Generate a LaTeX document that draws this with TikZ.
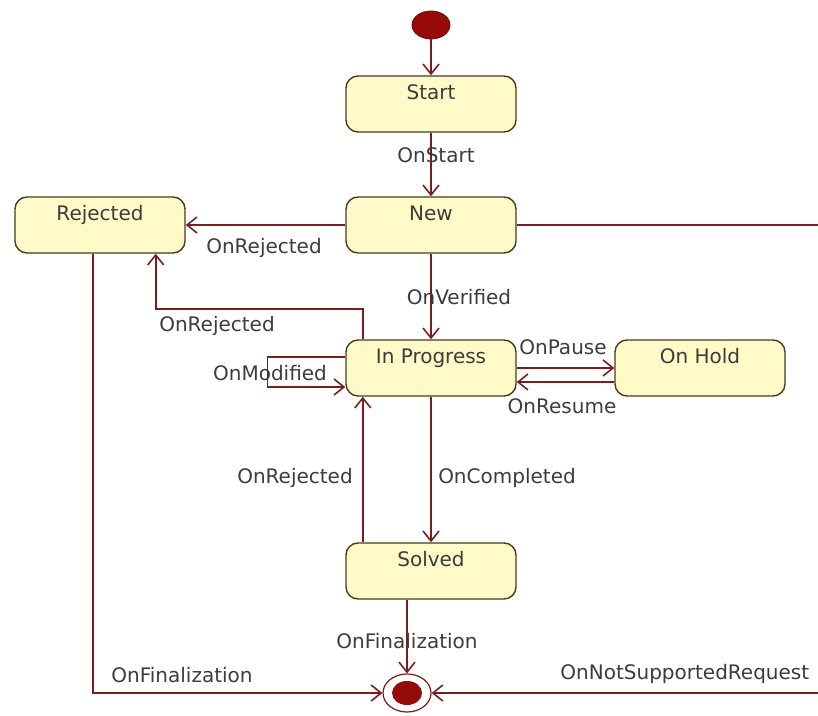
\documentclass[tikz,border=0pt]{standalone}
\usepackage{fontspec}
\setmainfont{DejaVu Sans}
\usetikzlibrary{arrows.meta, calc, shapes.geometric}

\definecolor{boxfill}{RGB}{255,250,200}
\definecolor{boxline}{RGB}{70,60,30}
\definecolor{wirered}{RGB}{120,30,30}
\definecolor{dotred}{RGB}{150,10,10}
\definecolor{labelgray}{RGB}{60,60,60}

\begin{document}
\begin{tikzpicture}[
            x=0.5pt, y=-0.5pt,
            state/.style={draw=boxline, fill=boxfill, line width=0.7pt, rounded corners=6pt, minimum width=85pt, minimum height=28pt, text height=7.6pt, text depth=12.4pt, inner ysep=4pt, font=\fontsize{10}{12}\selectfont, text=labelgray},
            event/.style={font=\fontsize{10}{12}\selectfont, text=labelgray, inner sep=1pt},
            arrow/.style={-{Straight Barb[length=5pt, width=8pt]}, draw=wirered, line width=0.8pt},
            initial/.style={ellipse, fill=dotred, draw=dotred!70!black, minimum width=19pt, minimum height=14pt, inner sep=0pt},
            final/.style={ellipse, draw=wirered, line width=0.6pt, fill=white, minimum width=24pt, minimum height=19pt, inner sep=0pt,
                path picture={\fill[dotred] (path picture bounding box.center) ellipse (7.5pt and 6pt);}}
        ]
            \useasboundingbox (0,0) rectangle (818,716);

            % States
            \node[initial] (init) at (431,25) {};
            \node[state] (start) at (431,104) {Start};
            \node[state] (new) at (431,225) {New};
            \node[state] (rejected) at (100,225) {Rejected};
            \node[state] (progress) at (431,368) {In Progress};
            \node[state] (hold) at (700,368) {On Hold};
            \node[state] (solved) at (431,571) {Solved};
            \node[final] (final) at (407,693) {};

            % Main column
            \draw[arrow] (init) -- (start);
            \draw[arrow] (start) -- (new);
            \draw[arrow] (new) -- (progress);
            \draw[arrow] (progress) -- (solved);
            \draw[arrow] ($(solved.south)+(-24,0)$) -- (final);

            % Back to rejected
            \draw[arrow] (new) -- (rejected);
            \draw[arrow] ($(progress.north west)+(17.5,0)$) -- ++(0,-30) -| ($(rejected.south east)+(-30,0)$);
            \draw[arrow] ($(solved.north west)+(17.5,0)$) -- ($(progress.south west)+(17.5,0)$);

            % Self loop and hold
            \draw[arrow] ($(progress.west)+(0,-11)$) -- ++(-78,0) |- ($(progress.west)+(0,19)$);
            \draw[arrow] (progress) -- (hold);
            \draw[arrow] ($(hold.west)+(0,14)$) -- ($(progress.east)+(0,14)$);

            % To the final state
            \draw[arrow] ($(rejected.south)+(-7,0)$) |- (final);
            \draw[arrow] (new.east) -| ($(final)+(413,0)$) -- (final);

            % Event labels
            \node[event] (onstart) at (436,155) {OnStart};
            \node[event] (onrejnew) at (264,248) {OnRejected};
            \node[event] (onverified) at (459,297) {OnVerified};
            \node[event] (onrejprog) at (217,326) {OnRejected};
            \node[event] (onmodified) at (270,373) {OnModified};
            \node[event] (onpause) at (563,347) {OnPause};
            \node[event] (onresume) at (562,406) {OnResume};
            \node[event] (onrejsolved) at (295,478) {OnRejected};
            \node[event] (oncompleted) at (507,478) {OnCompleted};
            \node[event] (onfinsolved) at (407,641) {OnFinalization};
            \node[event] (onfinrej) at (182,675) {OnFinalization};
            \node[event, anchor=west] (onnotsup) at (558,674) {OnNotSupportedRequest};

        \end{tikzpicture}
\end{document}
